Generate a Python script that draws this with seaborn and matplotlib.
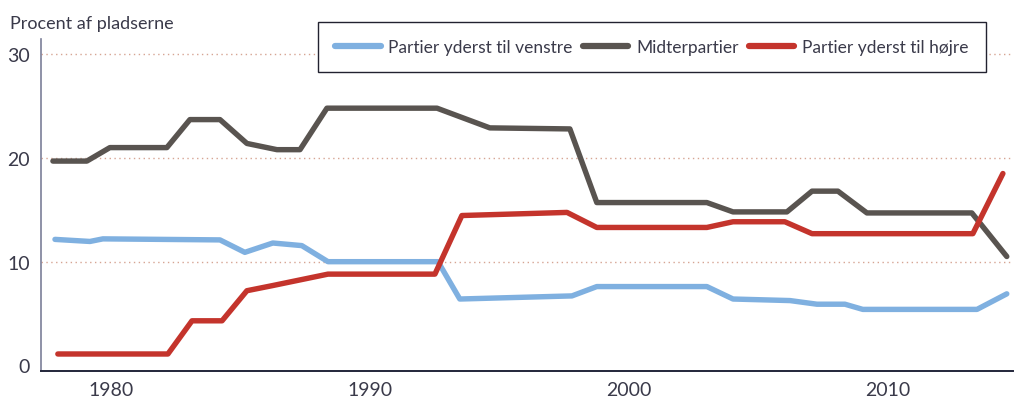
import matplotlib
matplotlib.use("Agg")
import matplotlib.pyplot as plt
import seaborn as sns
import pandas as pd

# Aflæste værdier (år, procent af pladserne)
venstre_aar = [1977.84, 1979.19, 1979.69, 1984.21, 1985.17, 1986.25, 1987.37, 1988.38,
               1992.63, 1993.47, 1997.80, 1998.76, 2003.01, 2004.02, 2006.22, 2007.26,
               2008.34, 2009.03, 2013.44, 2014.59]
venstre_pct = [12.15, 11.95, 12.2, 12.1, 10.9, 11.8, 11.55, 10.0,
               10.0, 6.4, 6.7, 7.6, 7.6, 6.4, 6.25, 5.9,
               5.9, 5.4, 5.4, 6.9]

midt_aar = [1977.76, 1979.07, 1979.96, 1982.16, 1983.05, 1984.21, 1985.25, 1986.41,
            1987.30, 1988.34, 1992.59, 1994.63, 1997.72, 1998.76, 2003.01, 2004.02,
            2006.10, 2007.07, 2008.07, 2009.19, 2013.24, 2014.59]
midt_pct = [19.7, 19.7, 21.0, 21.0, 23.7, 23.7, 21.4, 20.8,
            20.8, 24.8, 24.8, 22.9, 22.8, 15.7, 15.7, 14.8,
            14.8, 16.8, 16.8, 14.7, 14.7, 10.5]

hoejre_aar = [1977.95, 1982.20, 1983.13, 1984.29, 1985.25, 1986.25, 1988.38, 1992.51,
              1993.55, 1997.61, 1998.76, 2003.01, 2004.02, 2006.02, 2007.07, 2013.28,
              2014.44]
hoejre_pct = [1.1, 1.1, 4.3, 4.3, 7.2, 7.7, 8.8, 8.8,
              14.45, 14.75, 13.3, 13.3, 13.85, 13.85, 12.7, 12.7,
              18.5]

navne = ["Partier yderst til venstre", "Midterpartier", "Partier yderst til højre"]
farver = ["#7fb0e0", "#595450", "#c4342c"]
y_ticks = [0, 10, 20, 30]
x_ticks = [1980, 1990, 2000, 2010]

serier = [(venstre_aar, venstre_pct), (midt_aar, midt_pct), (hoejre_aar, hoejre_pct)]

sns.set_style("white")
plt.rcParams["font.family"] = ["Lato", "DejaVu Sans"]

fig = plt.figure(figsize=(10.14, 4.02), dpi=100)
ax = fig.add_axes([41 / 1014, 1 - 372 / 402, 972 / 1014, 332 / 402])

for (aar, pct), navn, farve in zip(serier, navne, farver):
    df = pd.DataFrame({"aar": aar, "pct": pct})
    sns.lineplot(data=df, x="aar", y="pct", ax=ax, color=farve, linewidth=3.9,
                 label=navn, solid_capstyle="round", solid_joinstyle="round")

ax.set_xlim(1977.30, 2014.83)
ax.set_ylim(-0.54, 31.47)
ax.set_xticks(x_ticks)
ax.set_yticks(y_ticks)
ax.set_xlabel("")
ax.set_ylabel("")
ax.tick_params(axis="both", length=0, labelsize=14, labelcolor="#3a3a4a")
ax.tick_params(axis="y", pad=8)
ax.tick_params(axis="x", pad=7)

# stiplede hjælpelinjer
ax.grid(axis="y", linestyle=(0, (1, 2.5)), color="#d6a493", linewidth=1.0)
ax.grid(axis="x", visible=False)
ax.yaxis.get_gridlines()[0].set_visible(False)

for side in ["top", "right"]:
    ax.spines[side].set_visible(False)
ax.spines["left"].set_color("#7c7f98")
ax.spines["left"].set_linewidth(1.2)
ax.spines["bottom"].set_color("#23263a")
ax.spines["bottom"].set_linewidth(1.4)

leg = ax.legend(loc="center", bbox_to_anchor=(652 / 1014, 1 - 48 / 402),
                bbox_transform=fig.transFigure, ncol=3, frameon=True, fancybox=False,
                fontsize=12.5, handlelength=2.6, handletextpad=0.45, columnspacing=0.6,
                borderpad=1.0, labelcolor="#3a3a4a")
leg.get_frame().set_edgecolor("#222230")
leg.get_frame().set_linewidth(1.0)
leg.get_frame().set_alpha(1)
for linje in leg.get_lines():
    linje.set_linewidth(4.5)

fig.text(10 / 1014, 1 - 24 / 402, "Procent af pladserne", fontsize=13,
         color="#3a3a4a", va="center", ha="left")

fig.savefig("out.png", dpi=100)
